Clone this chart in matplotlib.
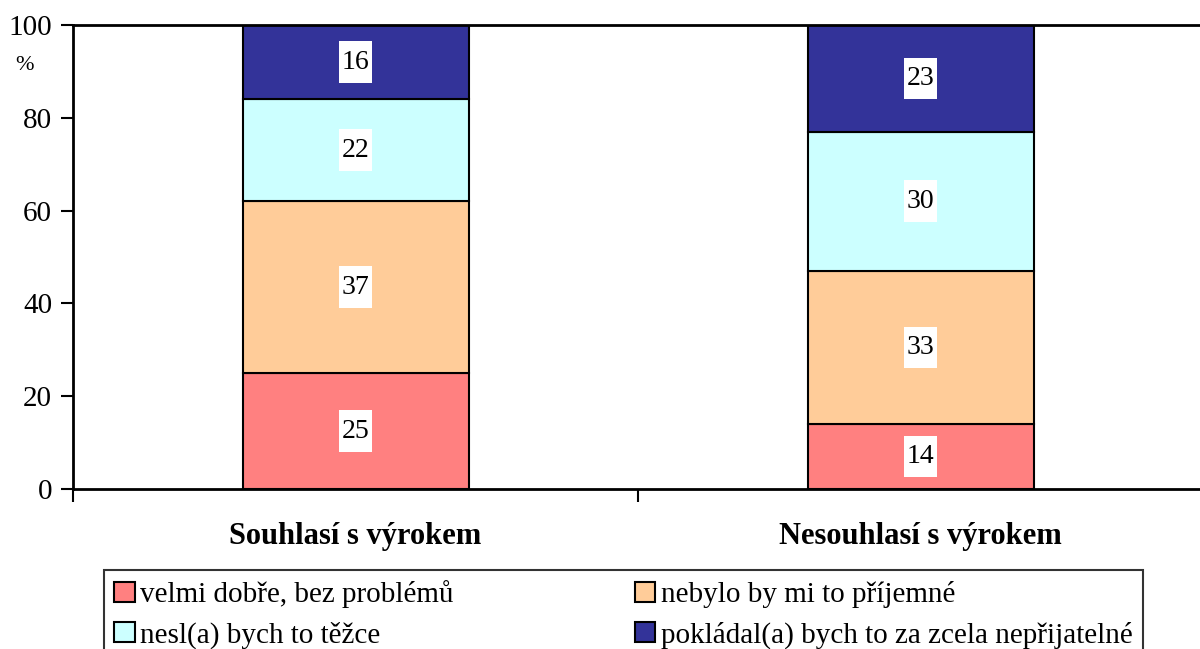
import numpy as np
import matplotlib
matplotlib.use('Agg')
from matplotlib import pyplot as plt
from matplotlib.path import Path
from matplotlib.ticker import FixedLocator, NullFormatter

# ── data ──────────────────────────────────────────────────────────────────────
categories = ['Souhlasí s výrokem', 'Nesouhlasí s výrokem']
series_names = ['velmi dobře, bez problémů', 'nebylo by mi to příjemné',
                'nesl(a) bych to těžce', 'pokládal(a) bych to za zcela nepřijatelné']
values = {
    'velmi dobře, bez problémů': [25, 14],
    'nebylo by mi to příjemné': [37, 33],
    'nesl(a) bych to těžce': [22, 30],
    'pokládal(a) bych to za zcela nepřijatelné': [16, 23],
}
colors = ['#FF8080', '#FFCC99', '#CCFFFF', '#333399']
y_ticks = [0, 20, 40, 60, 80, 100]

plt.rcParams['font.family'] = ['Liberation Serif', 'DejaVu Serif']


def tall_box(x0, y0, width, height, mutation_size):
    # white label box, narrow sideways and tall like the Excel data labels
    px, py = 0.08 * mutation_size, 0.3 * mutation_size
    x0, y0 = x0 - px, y0 - py
    x1, y1 = x0 + width + 2 * px, y0 + height + 2 * py
    return Path([(x0, y0), (x1, y0), (x1, y1), (x0, y1), (x0, y0)], closed=True)


fig = plt.figure(figsize=(12, 6.49), dpi=100)
W, H = 1200, 649
ax = fig.add_axes([73 / W, 1 - 489 / H, 1130 / W, 464 / H])

x = np.arange(len(categories))
bottom = np.zeros(len(categories))
handles = []
for name, col in zip(series_names, colors):
    vals = np.array(values[name])
    bars = ax.bar(x, vals, width=0.4, bottom=bottom, color=col,
                  edgecolor='black', linewidth=1.5, label=name, zorder=2)
    handles.append(bars)
    for xi, v, b in zip(x, vals, bottom):
        ax.text(xi, b + v / 2, f'{v}', ha='center', va='center', fontsize=20,
                bbox=dict(boxstyle=tall_box, fc='white', ec='none'),
                zorder=3)
    bottom += vals

ax.set_xlim(-0.5, 1.5)
ax.set_ylim(0, 100)
ax.set_yticks(y_ticks)
ax.tick_params(axis='y', direction='out', length=9, width=1.5, labelsize=21, pad=6)

# category boundaries as major ticks, labels at minor positions
ax.xaxis.set_major_locator(FixedLocator([-0.5, 0.5, 1.5]))
ax.xaxis.set_major_formatter(NullFormatter())
ax.xaxis.set_minor_locator(FixedLocator(x))
ax.set_xticklabels(categories, minor=True, fontsize=22, fontweight='bold')
ax.tick_params(axis='x', which='major', direction='out', length=9, width=1.5)
ax.tick_params(axis='x', which='minor', length=0, pad=24)

for s in ax.spines.values():
    s.set_linewidth(2)

fig.text(25 / W, 1 - 66 / H, '%', fontsize=16, ha='center', va='center')

# row-major order like the original legend
order = [0, 2, 1, 3]
leg = fig.legend([handles[i] for i in order], [series_names[i] for i in order],
                 loc='upper left', bbox_to_anchor=(104 / W, 1 - 570 / H),
                 ncol=2, fontsize=21, frameon=True, fancybox=False,
                 edgecolor='black', handlelength=0.7, handleheight=0.7,
                 handletextpad=0.2, columnspacing=6.2, labelspacing=0.45,
                 borderpad=0.35, borderaxespad=0)
leg.get_frame().set_linewidth(1.5)

plt.savefig('out.png', dpi=100)
